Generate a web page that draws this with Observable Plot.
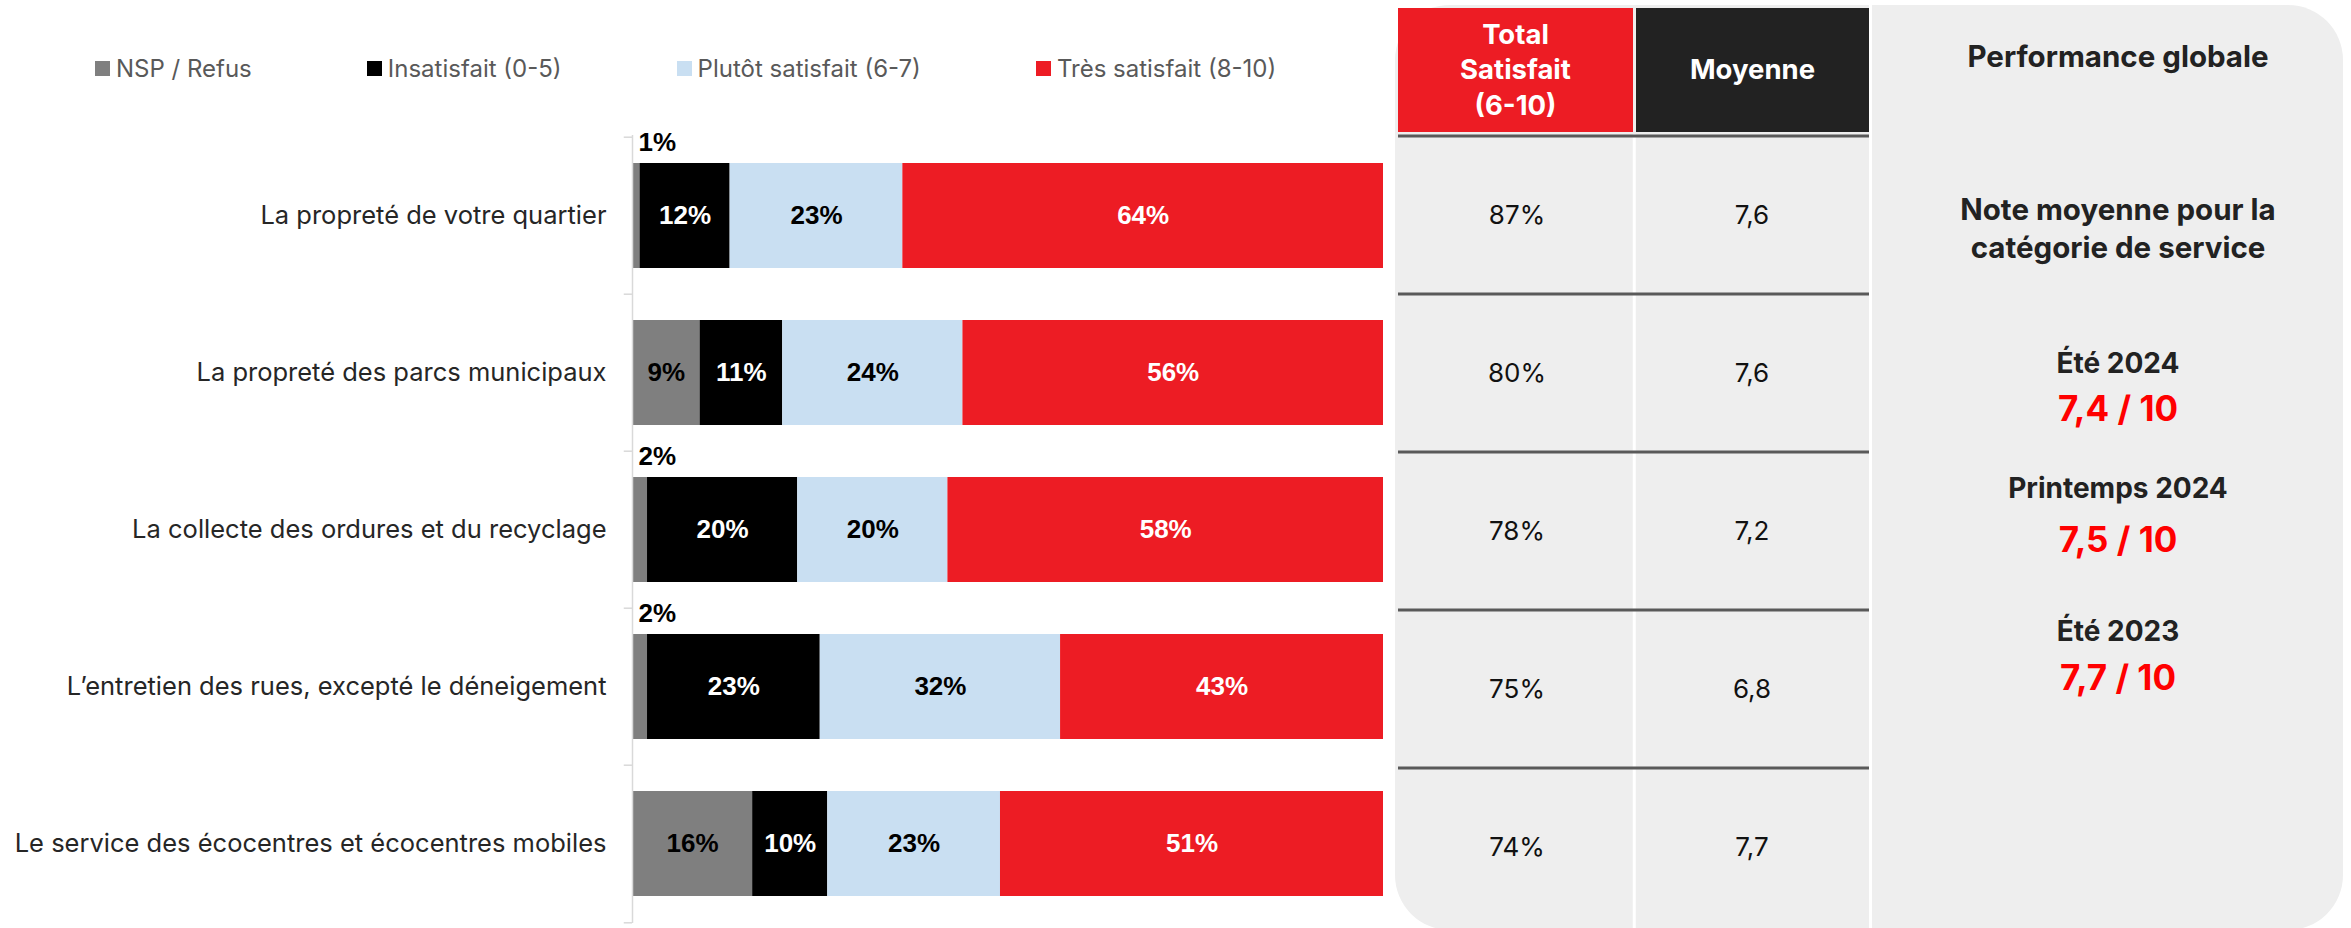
<!DOCTYPE html>
<html><head><meta charset="utf-8">
<script src="https://cdn.jsdelivr.net/npm/d3@7"></script>
<script src="https://cdn.jsdelivr.net/npm/@observablehq/plot@0.6"></script>
<style>
html,body{margin:0;padding:0;background:#fff;}
#root{position:relative;width:2351px;height:928px;overflow:hidden;font-family:Inter, "Noto Sans", sans-serif;}
.abs{position:absolute;}
.lg-swatches-wrap .lg-swatch{margin-right:115px !important;}
.lg-swatch > svg{margin-right:6px !important;}
.hdr{position:absolute;display:flex;align-items:center;justify-content:center;text-align:center;color:#fff;font-weight:700;font-size:27.5px;line-height:35.5px;white-space:pre-line;}
.ptxt{position:absolute;left:1872px;width:492px;text-align:center;line-height:1;transform:translateY(-50%);white-space:nowrap;}
</style></head>
<body><div id="root"></div>
<script>
// ---------- data ----------
const categories = [
  "La propreté de votre quartier",
  "La propreté des parcs municipaux",
  "La collecte des ordures et du recyclage",
  "L’entretien des rues, excepté le déneigement",
  "Le service des écocentres et écocentres mobiles"
];
const series = ["NSP / Refus", "Insatisfait (0-5)", "Plutôt satisfait (6-7)", "Très satisfait (8-10)"];
const nspRefus = [1, 9, 2, 2, 16];
const insatisfait = [12, 11, 20, 23, 10];
const plutotSatisfait = [23, 24, 20, 32, 23];
const tresSatisfait = [64, 56, 58, 43, 51];
const totalSatisfait = [87, 80, 78, 75, 74];
const moyenne = [7.6, 7.6, 7.2, 6.8, 7.7];
const tableColumns = ["Total\nSatisfait\n(6-10)", "Moyenne"];
const panelTitle = "Performance globale";
const panelSubtitle = ["Note moyenne pour la", "catégorie de service"];
const periods = ["Été 2024", "Printemps 2024", "Été 2023"];
const periodScores = [7.4, 7.5, 7.7];
const seriesColors = ["#7f7f7f", "#000000", "#c9dff2", "#ed1c24"];
const whiteLabelSeries = [series[1], series[3]];

// ---------- derived tables ----------
const seriesValues = [nspRefus, insatisfait, plutotSatisfait, tresSatisfait];
const stacked = categories.flatMap((cat, i) =>
  series.map((serie, j) => ({cat, serie, value: seriesValues[j][i]})));
const fmtDec = v => v.toFixed(1).replace(".", ",");
const cells = categories.flatMap((cat, i) => [
  {col: tableColumns[0], cat, label: totalSatisfait[i] + "%"},
  {col: tableColumns[1], cat, label: fmtDec(moyenne[i])}
]);

// ---------- layout ----------
const root = document.getElementById("root");
const W = 1390, H = 928, mL = 632, mR = 7, mT = 135, mB = 5;
const padIn = 0.333, padOut = padIn / 2;
const step = (H - mT - mB) / (categories.length - padIn + 2 * padOut);
const valueFont = {fontFamily: "Liberation Sans, Arial, sans-serif", fontWeight: "bold", fontSize: 26};

const bars = Plot.plot({
  width: W, height: H, marginLeft: mL, marginRight: mR, marginTop: mT, marginBottom: mB,
  style: {background: "transparent", fontFamily: "Inter, sans-serif", fontSize: "25.5px", color: "#262626", overflow: "visible"},
  x: {domain: [0, 100], axis: null},
  y: {type: "band", domain: categories, paddingInner: padIn, paddingOuter: padOut, label: null},
  color: {domain: series, range: seriesColors},
  marks: [
    Plot.barX(stacked, {x: "value", y: "cat", fill: "serie", z: "serie"}),
    Plot.text(stacked, Plot.stackX({x: "value", y: "cat", z: "serie",
      text: d => (d.value >= 5 && whiteLabelSeries.includes(d.serie)) ? d.value + "%" : null,
      fill: "#ffffff", ...valueFont})),
    Plot.text(stacked, Plot.stackX({x: "value", y: "cat", z: "serie",
      text: d => (d.value >= 5 && !whiteLabelSeries.includes(d.serie)) ? d.value + "%" : null,
      fill: "#000000", ...valueFont})),
    Plot.text(stacked, {filter: d => d.serie === series[0] && d.value < 5,
      x: () => 0, y: "cat", text: d => d.value + "%", textAnchor: "start", dx: 6, dy: -73,
      fill: "#000000", ...valueFont}),
    Plot.ruleX([0], {stroke: "#d9d9d9", strokeWidth: 1.5}),
    Plot.ruleY(categories, {y: d => d, x1: () => -1.1, x2: () => 0, dy: -step / 2, stroke: "#d9d9d9", strokeWidth: 1.5}),
    Plot.ruleY(categories.slice(-1), {y: d => d, x1: () => -1.1, x2: () => 0, dy: step / 2, stroke: "#d9d9d9", strokeWidth: 1.5}),
    Plot.axisY({tickSize: 0, tickPadding: 26, fill: "#262626", fontSize: 25.5})
  ]
});
bars.style.position = "absolute"; bars.style.left = "0px"; bars.style.top = "0px";
root.appendChild(bars);

// legend
const legend = Plot.legend({
  color: {type: "ordinal", domain: series, range: seriesColors},
  legend: "swatches", swatchSize: 15, className: "lg",
  style: {fontFamily: "Inter, sans-serif", fontSize: "24px", color: "#595959"}
});
const legWrap = document.createElement("div");
legWrap.className = "abs"; legWrap.style.left = "95px"; legWrap.style.top = "52px";
legWrap.appendChild(legend);
root.appendChild(legWrap);

// table panel background
function box(left, top, width, height, css) {
  const d = document.createElement("div");
  d.className = "abs";
  Object.assign(d.style, {left: left + "px", top: top + "px", width: width + "px", height: height + "px"}, css || {});
  root.appendChild(d);
  return d;
}
box(1395, 5, 948, 925, {background: "#eeeeee", borderRadius: "55px"});

// headers
const hdrColors = ["#ed1c24", "#222222"];
const hdrX = [[1398, 1633], [1636, 1869]];
tableColumns.forEach((c, i) => {
  const d = box(hdrX[i][0], 8, hdrX[i][1] - hdrX[i][0], 124, {background: hdrColors[i]});
  d.className = "hdr";
  d.textContent = c;
});

// table body
const tL = 1395, tW = 476, tmL = 3, tmR = 2, tmT = 134;
const tStep = (H - tmT) / categories.length;
const bw = (tW - tmL - tmR) / tableColumns.length;
const table = Plot.plot({
  width: tW, height: H, marginLeft: tmL, marginRight: tmR, marginTop: tmT, marginBottom: 0,
  style: {background: "transparent", fontFamily: "Inter, sans-serif", overflow: "visible"},
  x: {type: "band", domain: tableColumns, padding: 0, axis: null},
  y: {type: "band", domain: categories, padding: 0, axis: null},
  marks: [
    Plot.ruleX(tableColumns.slice(1), {x: d => d, dx: -bw / 2, stroke: "#ffffff", strokeWidth: 3}),
    Plot.ruleY(categories, {y: d => d, dy: -tStep / 2, stroke: "#595959", strokeWidth: 3}),
    Plot.text(cells, {x: "col", y: "cat", text: "label", fontSize: 26, fill: "#111111", fontFamily: "Inter, sans-serif"})
  ]
});
table.style.position = "absolute"; table.style.left = tL + "px"; table.style.top = "0px";
root.appendChild(table);

// column separator before the performance panel
box(1869, 5, 3, 925, {background: "#ffffff"});

// performance panel texts
function ptxt(text, cy, size, color) {
  const d = document.createElement("div");
  d.className = "ptxt";
  Object.assign(d.style, {top: cy + "px", fontSize: size + "px", color, fontWeight: 700});
  d.textContent = text;
  root.appendChild(d);
}
ptxt(panelTitle, 57, 29.5, "#222222");
ptxt(panelSubtitle[0], 210, 29.5, "#222222");
ptxt(panelSubtitle[1], 248, 29.5, "#222222");
const periodY = [363, 488, 631];
const scoreY = [408, 539, 677];
periods.forEach((p, i) => {
  ptxt(p, periodY[i], 28, "#222222");
  ptxt(fmtDec(periodScores[i]) + " / 10", scoreY[i], 35, "#ff0000");
});
</script>
</body></html>
